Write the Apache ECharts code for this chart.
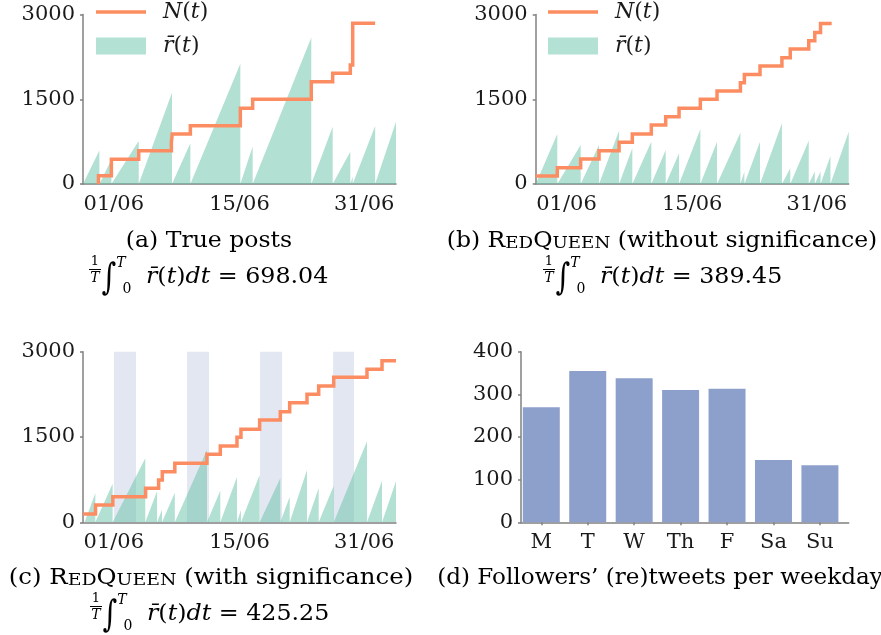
<!DOCTYPE html>
<html><head><meta charset="utf-8">
<script src="https://cdn.jsdelivr.net/npm/echarts@6/dist/echarts.min.js"></script>
<style>html,body{margin:0;padding:0;background:#fff}#c{width:881px;height:635px}</style>
</head><body><div id="c"></div>
<script>
// ---------- data ----------
const dayLabels = ['01/06', '15/06', '31/06'];
const dayLabelPos = [2.95, 15.0, 26.95];
const weekdays = ['M', 'T', 'W', 'Th', 'F', 'Sa', 'Su'];
const weekdayPos = [0, 1, 2, 3, 4, 5, 6];
const weekdayCounts = [270, 355, 338, 310, 313, 146, 134];

// (a) true posts
const postsA_t = [1.48, 1.48, 2.72, 5.34, 8.47, 8.55, 10.29, 15.08, 16.26, 21.88, 23.93, 25.62, 25.85];
const postsA_n = [0, 148, 437, 590, 740, 885, 1030, 1340, 1500, 1810, 1960, 2107, 2846];
const postsA_end = 28.0;
const rankA_start = 0;
const rankA_reset = [1.57, 2.72, 5.34, 8.53, 10.29, 15.08, 16.26, 21.88, 23.93, 25.62, 25.85, 28.0];
const rankA_peak = [593, 430, 760, 1614, 720, 2131, 662, 2595, 1015, 573, 130, 1027];
const rankA_end = 1104;

// (b) RedQueen without significance
const postsB_t = [0, 2.07, 4.31, 6.07, 7.99, 9.26, 11.08, 12.46, 13.74, 15.78, 17.38, 19.62, 20.0, 21.5, 23.6, 24.4, 26.17, 26.75, 27.3];
const postsB_n = [142, 289, 442, 590, 738, 885, 1044, 1192, 1340, 1499, 1646, 1794, 1941, 2089, 2236, 2390, 2537, 2685, 2844];
const postsB_end = 28.37;
const rankB_start = 0;
const rankB_reset = [2.07, 4.31, 6.07, 7.99, 9.26, 11.08, 12.46, 13.74, 15.78, 17.38, 19.62, 20.0, 21.5, 23.6, 24.4, 26.17, 26.75, 27.3, 28.25];
const rankB_peak = [885, 690, 690, 944, 631, 749, 602, 543, 968, 749, 909, 218, 749, 1074, 277, 767, 220, 220, 496];
const rankB_end = 926;

// (c) RedQueen with significance
const postsC_t = [0, 1.2, 2.86, 6.0, 7.25, 7.6, 8.8, 11.88, 13.16, 14.76, 15.14, 16.93, 18.91, 19.81, 21.47, 22.59, 24.03, 27.22, 28.66];
const postsC_n = [147, 305, 451, 598, 744, 891, 1037, 1195, 1342, 1494, 1635, 1799, 1946, 2104, 2250, 2397, 2549, 2690, 2842];
const postsC_end = 30.0;
const rankC_start = 0.15;
const rankC_reset = [1.18, 2.84, 5.97, 7.1, 7.57, 8.8, 11.88, 13.16, 14.76, 15.14, 16.93, 18.91, 19.81, 21.47, 22.59, 24.03, 27.22, 28.66];
const rankC_peak = [510, 680, 1125, 545, 220, 520, 1271, 557, 797, 217, 832, 773, 451, 920, 605, 642, 1427, 730];
const rankC_end = 720;
const weekendStart = [2.97, 9.97, 16.97, 23.97];
const weekendEnd = [5.08, 12.08, 19.08, 25.98];

const captions = ['(a) True posts', '(b) RedQueen (without significance)', '(c) RedQueen (with significance)', '(d) Followers\u2019 (re)tweets per weekday'];
const integralValues = ['698.04', '389.45', '425.25'];

// ---------- helpers ----------
const FONT = "'DejaVu Serif', serif";
const GRAY = '#808080';
const TXT = '#1a1a1a';
const ORANGE = '#fc8d62';
const TEAL = '#66c2a5';
const BLUE = '#8da0cb';

function sawtooth(t0, resets, peaks, endV) {
  const pts = [[t0, 0]];
  resets.forEach((t, i) => { pts.push([t, peaks[i]]); pts.push([t, 0]); });
  pts.push([30, endV]);
  return pts;
}
function steps(ts, ns, tEnd) {
  const pts = ts.map((t, i) => [t, ns[i]]);
  pts.push([tEnd, ns[ns.length - 1]]);
  return pts;
}
function nearestLabel(v, pos, labels) {
  let best = 0;
  pos.forEach((p, i) => { if (Math.abs(p - v) < Math.abs(pos[best] - v)) best = i; });
  return labels[best];
}
const labelFont = { fontFamily: FONT, fontSize: 21, color: TXT };

function timeAxis(g) {
  return {
    type: 'value', gridIndex: g, min: 0, max: 30,
    axisLine: { show: true, onZero: false, lineStyle: { color: GRAY, width: 1.5 } },
    axisTick: { show: false }, splitLine: { show: false },
    axisLabel: Object.assign({ customValues: dayLabelPos, margin: 10,
      formatter: v => nearestLabel(v, dayLabelPos, dayLabels) }, labelFont)
  };
}
function countAxis(g) {
  return {
    type: 'value', gridIndex: g, min: 0, max: 3000, interval: 1500,
    axisLine: { show: true, onZero: false, lineStyle: { color: GRAY, width: 1.5 } },
    axisTick: { show: true, length: 3, lineStyle: { color: GRAY, width: 1.5 } },
    splitLine: { show: false },
    axisLabel: Object.assign({ margin: 8, formatter: v => String(v) }, labelFont)
  };
}
function postSeries(idx, ts, ns, tEnd) {
  return { name: 'N(t)', type: 'line', xAxisIndex: idx, yAxisIndex: idx, step: 'end',
    data: steps(ts, ns, tEnd), symbol: 'none', z: 4, silent: true,
    lineStyle: { color: ORANGE, width: 3.5, cap: 'butt', join: 'miter' }, itemStyle: { color: ORANGE } };
}
function rankSeries(idx, t0, resets, peaks, endV, extra) {
  return Object.assign({ name: 'r\u0304(t)', type: 'line', xAxisIndex: idx, yAxisIndex: idx,
    data: sawtooth(t0, resets, peaks, endV), symbol: 'none', z: 2, silent: true,
    lineStyle: { width: 0 }, itemStyle: { color: '#b3e2d5' },
    areaStyle: { color: TEAL, opacity: 0.5 } }, extra || {});
}
const lineIcon = 'path://M0,0L0.01,0L0,0.01Z M0,6.8L50,6.8L50,10.3L0,10.3Z M50,17L49.99,17L50,16.99Z';
function legendAt(left) {
  return {
    left: left, top: 0, orient: 'vertical', padding: 0, itemWidth: 50, itemHeight: 17, itemGap: 10,
    selectedMode: false, symbolKeepAspect: false,
    data: [
      { name: 'N(t)', icon: lineIcon, itemStyle: { color: ORANGE } },
      { name: 'r\u0304(t)', icon: 'rect', itemStyle: { color: '#b3e2d5' } }
    ],
    formatter: n => n === 'N(t)' ? '{i|N}({i|t})' : '{i|r\u0304}({i|t})',
    textStyle: { fontFamily: FONT, fontSize: 22, lineHeight: 24, color: TXT, padding: [0, 0, 0, 12],
      rich: { i: { fontFamily: FONT, fontSize: 22, fontStyle: 'italic', lineHeight: 24, color: TXT } } }
  };
}
function txt(x, y, text, size, italic, align, sx, sy) {
  return { type: 'text', x: x, y: y, silent: true, scaleX: sx || 1, scaleY: sy || 1,
    style: { text: text, fontFamily: FONT, fontSize: size, fontStyle: italic ? 'italic' : 'normal',
      fill: '#000', align: align || 'center', verticalAlign: 'middle' } };
}
function formula(cx, by, value) {
  const main = txt(cx - 63, by - 7, '{i|r\u0304}({i|t}){i|dt} = ' + value, 22, false, 'left', 1.08, 1);
  main.style.rich = { i: { fontFamily: FONT, fontSize: 22, fontStyle: 'italic', fill: '#000' } };
  return [
    txt(cx - 114, by - 22, '1', 13),
    { type: 'line', silent: true, shape: { x1: cx - 120, y1: by - 14.5, x2: cx - 108, y2: by - 14.5 }, style: { stroke: '#000', lineWidth: 1 } },
    txt(cx - 114, by - 6, 'T', 14, true),
    txt(cx - 100, by - 4, '\u222B', 28, false, 'center', 1, 1.3),
    txt(cx - 88, by - 21, 'T', 14, true),
    txt(cx - 82, by + 5, '0', 14),
    main
  ];
}
function smallCapsCaption(x, y, text, sx) {
  const parts = text.split('RedQueen');
  return { type: 'text', x: x, y: y, silent: true, scaleX: sx,
    style: { text: '{n|' + parts[0] + '}{b|R}{s|ED}{b|Q}{s|UEEN}{n|' + parts[1] + '}',
      fontFamily: FONT, fontSize: 22, fill: '#000', align: 'center', verticalAlign: 'middle',
      rich: { n: { fontFamily: FONT, fontSize: 22, fill: '#000' },
              b: { fontFamily: FONT, fontSize: 22, fill: '#000' },
              s: { fontFamily: FONT, fontSize: 17, fill: '#000', verticalAlign: 'bottom' } } } };
}

// ---------- chart ----------
const chart = echarts.init(document.getElementById('c'), null, { renderer: 'canvas' });
const option = {
  animation: false,
  backgroundColor: '#fff',
  grid: [
    { left: 83, top: 14.6, width: 313, height: 169.4, outerBoundsMode: 'none', containLabel: false },
    { left: 535.7, top: 14.6, width: 313, height: 169.4, outerBoundsMode: 'none', containLabel: false },
    { left: 83, top: 351.7, width: 313, height: 170.6, outerBoundsMode: 'none', containLabel: false },
    { left: 521, top: 351.7, width: 327.7, height: 170.6, outerBoundsMode: 'none', containLabel: false }
  ],
  xAxis: [
    timeAxis(0), timeAxis(1), timeAxis(2),
    { type: 'value', gridIndex: 3, min: -0.437, max: 6.62,
      axisLine: { show: true, onZero: false, lineStyle: { color: GRAY, width: 1.5 } },
      axisTick: { show: true, customValues: weekdayPos, length: 3, lineStyle: { color: GRAY, width: 1.5 } },
      splitLine: { show: false },
      axisLabel: Object.assign({ customValues: weekdayPos, margin: 10,
        formatter: v => weekdays[Math.round(v)] }, labelFont) }
  ],
  yAxis: [
    countAxis(0), countAxis(1), countAxis(2),
    { type: 'value', gridIndex: 3, min: 0, max: 400, interval: 100,
      axisLine: { show: true, onZero: false, lineStyle: { color: GRAY, width: 1.5 } },
      axisTick: { show: true, length: 3, lineStyle: { color: GRAY, width: 1.5 } },
      splitLine: { show: false },
      axisLabel: Object.assign({ margin: 8, formatter: v => String(v) }, labelFont) }
  ],
  legend: [legendAt(96), legendAt(548)],
  series: [
    rankSeries(0, rankA_start, rankA_reset, rankA_peak, rankA_end),
    postSeries(0, postsA_t, postsA_n, postsA_end),
    rankSeries(1, rankB_start, rankB_reset, rankB_peak, rankB_end),
    postSeries(1, postsB_t, postsB_n, postsB_end),
    rankSeries(2, rankC_start, rankC_reset, rankC_peak, rankC_end, {
      markArea: { silent: true, itemStyle: { color: BLUE, opacity: 0.25 },
        data: weekendStart.map((s, i) => [{ xAxis: s }, { xAxis: weekendEnd[i] }]) }
    }),
    postSeries(2, postsC_t, postsC_n, postsC_end),
    { name: 'weekday', type: 'bar', xAxisIndex: 3, yAxisIndex: 3, barWidth: 37, silent: true,
      itemStyle: { color: BLUE }, data: weekdayPos.map((p, i) => [p, weekdayCounts[i]]) }
  ],
  graphic: [].concat(
    [txt(209, 241, captions[0], 22, false, 'center', 1.07, 1)],
    formula(209, 284, integralValues[0]),
    [smallCapsCaption(662, 241, captions[1], 1.07)],
    formula(663, 284, integralValues[1]),
    [smallCapsCaption(211, 578, captions[2], 1.11)],
    formula(210, 621, integralValues[2]),
    [txt(660, 578, captions[3], 22, false, 'center', 1.05, 1)]
  )
};
chart.setOption(option);
</script>
</body></html>
